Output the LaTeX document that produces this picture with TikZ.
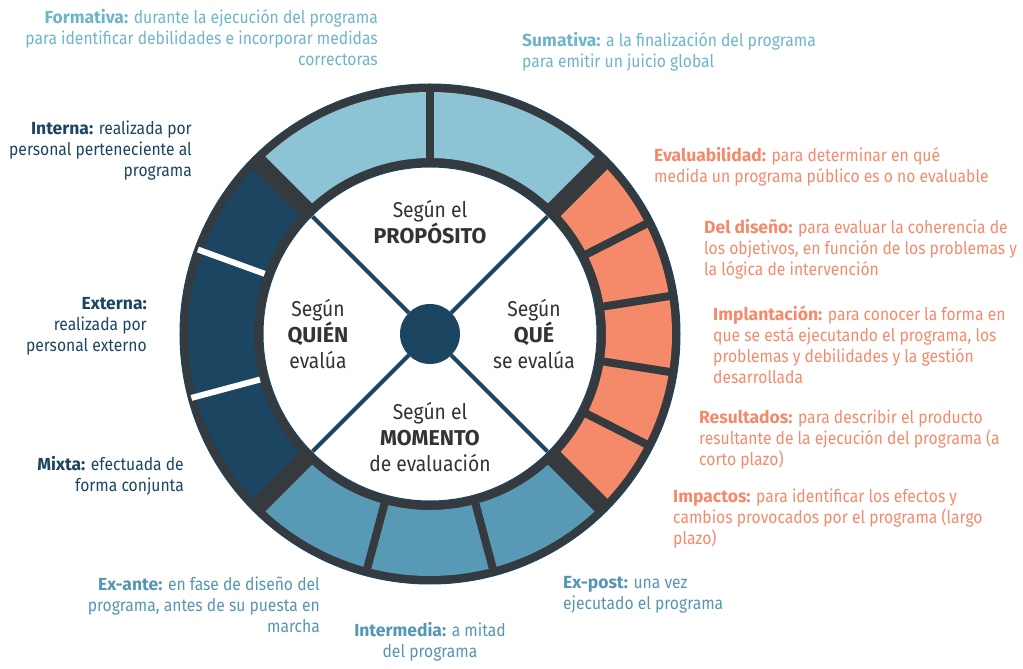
\documentclass[tikz,border=0pt]{standalone}
\usepackage{fontspec}
\setmainfont{Fira Sans}[FakeStretch=0.895, BoldFeatures={FakeStretch=1.0}]
\usepackage{xcolor}
\usetikzlibrary{positioning}

\definecolor{ringgray}{HTML}{343A3D}
\definecolor{navy}{HTML}{1B4560}
\definecolor{lightblue}{HTML}{8CC4D6}
\definecolor{lighttext}{HTML}{6DB5CB}
\definecolor{salmon}{HTML}{F58A6B}
\definecolor{steelblue}{HTML}{5899B6}
\definecolor{steeltext}{HTML}{5596B3}
\definecolor{centertext}{HTML}{333333}

\newcommand{\ringpart}[3]{%
  \fill[#3] (#1:176) arc[start angle=#1, end angle=#2, radius=176]
    -- (#2:242) arc[start angle=#2, end angle=#1, radius=242] -- cycle;}

\begin{document}
\begin{tikzpicture}[x=1pt, y=1pt,
  lbl/.style={inner sep=0pt, font=\fontsize{17.5}{21}\selectfont},
  mid/.style={inner sep=0pt, align=center, text=centertext, font=\fontsize{21.5}{26}\selectfont},
  thinsep/.style={ringgray, line width=8pt},
  thicksep/.style={ringgray, line width=18pt},
  whitesep/.style={white, line width=6pt},
  spoke/.style={navy, line width=4pt}]
\useasboundingbox (-430,334) rectangle (593,-335);

\fill[ringgray, draw=navy, line width=1pt] (0,0) circle[radius=250];

\ringpart{45}{135}{lightblue}
\ringpart{135}{225}{navy}
\ringpart{225}{315}{steelblue}
\ringpart{-45}{45}{salmon}

\draw[thinsep] (90:170) -- (90:246);
\draw[thinsep] (255:170) -- (255:246);
\draw[thinsep] (285:170) -- (285:246);
\draw[thinsep] (27:170) -- (27:246);
\draw[thinsep] (9:170) -- (9:246);
\draw[thinsep] (-9:170) -- (-9:246);
\draw[thinsep] (-27:170) -- (-27:246);
\draw[whitesep] (160:176) -- (160:247);
\draw[whitesep] (195:176) -- (195:247);
\draw[thicksep] (45:168) -- (45:246);
\draw[thicksep] (135:168) -- (135:246);
\draw[thicksep] (225:168) -- (225:246);
\draw[thicksep] (315:168) -- (315:246);

\fill[white, draw=navy, line width=1pt] (0,0) circle[radius=167];

\coordinate (ne) at (45:166);
\coordinate (nw) at (135:166);
\coordinate (sw) at (225:166);
\coordinate (se) at (315:166);
\node[circle, fill=navy, minimum size=60pt, inner sep=0pt] (hub) at (0,0) {};
\draw[spoke] (hub) -- (ne);
\draw[spoke] (hub) -- (nw);
\draw[spoke] (hub) -- (sw);
\draw[spoke] (hub) -- (se);

\node[mid] (proposito) at (0,112) {Según el\\\textbf{PROPÓSITO}};
\node[mid] (quien) at (-112,0) {Según\\\textbf{QUIÉN}\\evalúa};
\node[mid] (que) at (104,0) {Según\\\textbf{QUÉ}\\se evalúa};
\node[mid] (momento) at (0,-103) {Según el\\\textbf{MOMENTO}\\de evaluación};

\node[lbl, text=lighttext, align=right, anchor=east] (formativa) at (-52,296)
  {\textbf{Formativa:} durante la ejecución del programa\\para identificar debilidades e incorporar medidas\\correctoras};
\node[lbl, text=lighttext, align=left, anchor=west] (sumativa) at (92,282)
  {\textbf{Sumativa:} a la finalización del programa\\para emitir un juicio global};

\node[lbl, text=salmon, align=left, anchor=west] (evaluabilidad) at (224,167)
  {\textbf{Evaluabilidad:} para determinar en qué\\medida un programa público es o no evaluable};
\node[lbl, text=salmon, align=left, anchor=west] (diseno) at (274,85)
  {\textbf{Del diseño:} para evaluar la coherencia de\\los objetivos, en función de los problemas y\\la lógica de intervención};
\node[lbl, text=salmon, align=left, anchor=west] (implantacion) at (283,-10.5)
  {\textbf{Implantación:} para conocer la forma en\\que se está ejecutando el programa, los\\problemas y debilidades y la gestión\\desarrollada};
\node[lbl, text=salmon, align=left, anchor=west] (resultados) at (269,-106)
  {\textbf{Resultados:} para describir el producto\\resultante de la ejecución del programa (a\\corto plazo)};
\node[lbl, text=salmon, align=left, anchor=west] (impactos) at (243,-185)
  {\textbf{Impactos:} para identificar los efectos y\\cambios provocados por el programa (largo\\plazo)};

\node[lbl, text=steeltext, align=left, anchor=west] (expost) at (133,-260.5)
  {\textbf{Ex-post:} una vez\\ejecutado el programa};
\node[lbl, text=steeltext, align=center] (intermedia) at (0,-307.5)
  {\textbf{Intermedia:} a mitad\\del programa};
\node[lbl, text=steeltext, align=right, anchor=east] (exante) at (-110,-271)
  {\textbf{Ex-ante:} en fase de diseño del\\programa, antes de su puesta en\\marcha};

\node[lbl, text=navy, align=right, anchor=east] (mixta) at (-246,-141.5)
  {\textbf{Mixta:} efectuada de\\forma conjunta};
\node[lbl, text=navy, align=right, anchor=east] (externa) at (-283,8)
  {\textbf{Externa:}\\realizada por\\personal externo};
\node[lbl, text=navy, align=right, anchor=east] (interna) at (-238,183)
  {\textbf{Interna:} realizada por\\personal perteneciente al\\programa};
\end{tikzpicture}
\end{document}
